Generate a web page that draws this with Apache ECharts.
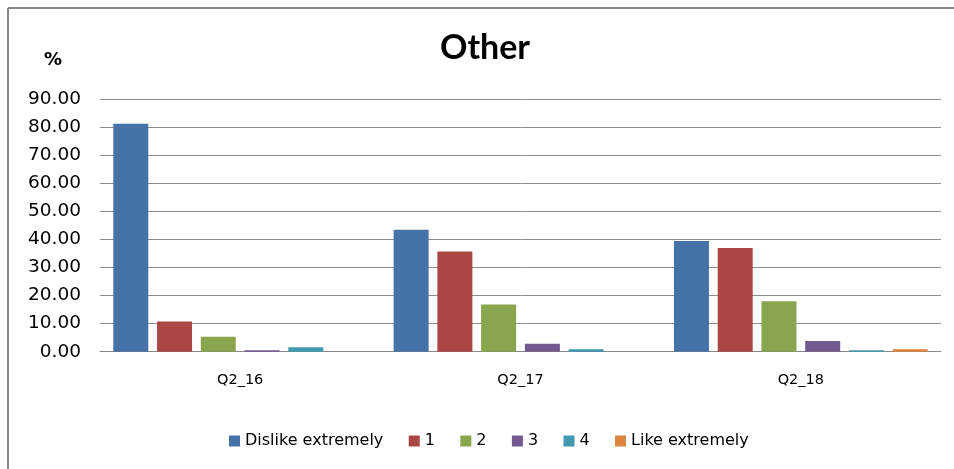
<!DOCTYPE html>
<html>
<head>
<meta charset="utf-8">
<script src="https://cdn.jsdelivr.net/npm/echarts@6/dist/echarts.min.js"></script>
<style>
  html, body { margin: 0; padding: 0; background: #fff; }
  #chart { width: 954px; height: 469px; }
</style>
</head>
<body>
<div id="chart"></div>
<script>
// Survey answers per question, in percent
const categories = ['Q2_16', 'Q2_17', 'Q2_18'];
const seriesNames = ['Dislike extremely', '1', '2', '3', '4', 'Like extremely'];
const dislikeExtremely = [81.2, 43.4, 39.4];
const score1 = [10.8, 35.7, 36.9];
const score2 = [5.3, 16.8, 18.0];
const score3 = [0.5, 2.8, 3.8];
const score4 = [1.6, 0.9, 0.5];
const likeExtremely = [0, 0, 0.9];
const yTicks = [0, 10, 20, 30, 40, 50, 60, 70, 80, 90];

const colors = ['#4572A7', '#AA4643', '#89A54E', '#71588F', '#4198AF', '#DB843D'];
const values = [dislikeExtremely, score1, score2, score3, score4, likeExtremely];

const chart = echarts.init(document.getElementById('chart'), null, { renderer: 'canvas' });

const labelFont = 'DejaVu Sans';

chart.setOption({
  animation: false,
  backgroundColor: '#ffffff',
  color: colors,
  title: {
    text: 'Other',
    left: 480,
    textAlign: 'center',
    top: 26,
    textStyle: { fontFamily: 'Lato', fontWeight: 'bold', fontSize: 34, color: '#000' }
  },
  graphic: [
    // chart frame (top and left edges)
    { type: 'line', shape: { x1: 8, y1: 8, x2: 954, y2: 8 }, style: { stroke: '#868686', lineWidth: 2 } },
    { type: 'line', shape: { x1: 8, y1: 8, x2: 8, y2: 469 }, style: { stroke: '#868686', lineWidth: 2 } },
    {
      type: 'text', left: 44, top: 51,
      style: { text: '%', font: 'bold 18px "DejaVu Sans"', fill: '#000' }
    }
  ],
  legend: {
    data: seriesNames,
    left: 224,
    top: 428,
    icon: 'rect',
    itemWidth: 11,
    itemHeight: 11,
    itemGap: 25.4,
    textStyle: { fontFamily: labelFont, fontSize: 16, color: '#000' }
  },
  grid: { left: 100, right: 13, top: 99, bottom: 117.3, containLabel: false },
  xAxis: {
    type: 'category',
    data: categories,
    axisLine: { show: true, lineStyle: { color: '#888', width: 1 } },
    axisTick: { show: false },
    axisLabel: { margin: 21, fontFamily: labelFont, fontSize: 14.5, color: '#000' }
  },
  yAxis: {
    type: 'value',
    min: yTicks[0],
    max: yTicks[yTicks.length - 1],
    interval: yTicks[1] - yTicks[0],
    axisLine: { show: false },
    axisTick: { show: false },
    splitLine: { lineStyle: { color: '#8c8c8c', width: 1 } },
    axisLabel: {
      margin: 19,
      fontFamily: labelFont,
      fontSize: 18.5,
      color: '#000',
      formatter: v => v.toFixed(2)
    }
  },
  series: seriesNames.map((name, i) => ({
    name,
    type: 'bar',
    data: values[i],
    barWidth: 35,
    barGap: '25%',
    itemStyle: { color: colors[i] }
  }))
});
</script>
</body>
</html>
